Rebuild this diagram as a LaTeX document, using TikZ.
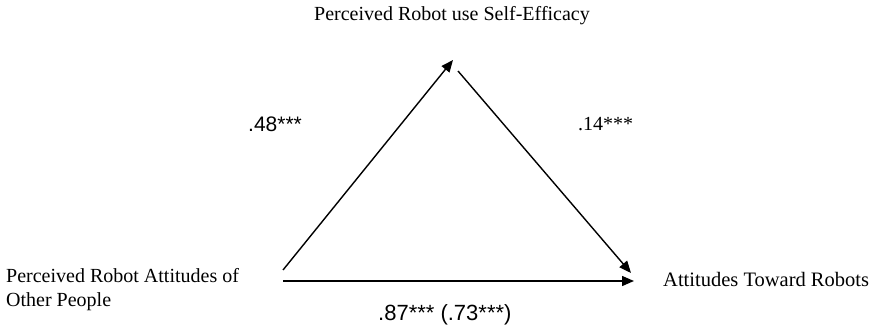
\documentclass[tikz,border=0pt]{standalone}
\usepackage{fontspec}
\setmainfont{Liberation Serif}
\newfontfamily\labsans{Liberation Sans}
\usetikzlibrary{arrows.meta}
\tikzset{
  txt/.style={inner sep=0pt, font=\fontsize{20}{24}\selectfont},
  sanstxt/.style={inner sep=0pt, font=\labsans\fontsize{21}{24}\selectfont},
  path/.style={line width=1.4pt, -{Triangle[length=12pt,width=10pt]}},
}
\begin{document}
\begin{tikzpicture}[x=1pt,y=-1pt]
\useasboundingbox (0,0) rectangle (873,329);
% labels
\node[txt, anchor=base] (top) at (452,21) {Perceived Robot use Self-Efficacy};
\node[txt, anchor=base west, align=left] (left) at (6,306) {Perceived Robot Attitudes of\\Other People};
\node[txt, anchor=base west, font=\fontsize{20.5}{24}\selectfont] (right) at (663,286) {Attitudes Toward Robots};
\node[sanstxt, anchor=base west] (a) at (248,131) {.48***};
\node[txt, anchor=base west] (b) at (578,130) {.14***};
\node[sanstxt, anchor=base west, font=\labsans\fontsize{22}{24}\selectfont] (c) at (378,320) {.87*** (.73***)};
% arrow end points
\coordinate (s1) at (283,270);
\coordinate (t1) at (453,60);
\coordinate (s2) at (458,71);
\coordinate (t2) at (631,273);
\coordinate (s3) at (283,281);
\coordinate (t3) at (634,281);
\draw[path] (s1) -- (t1);
\draw[path] (s2) -- (t2);
\draw[path] (s3) -- (t3);
\end{tikzpicture}
\end{document}
